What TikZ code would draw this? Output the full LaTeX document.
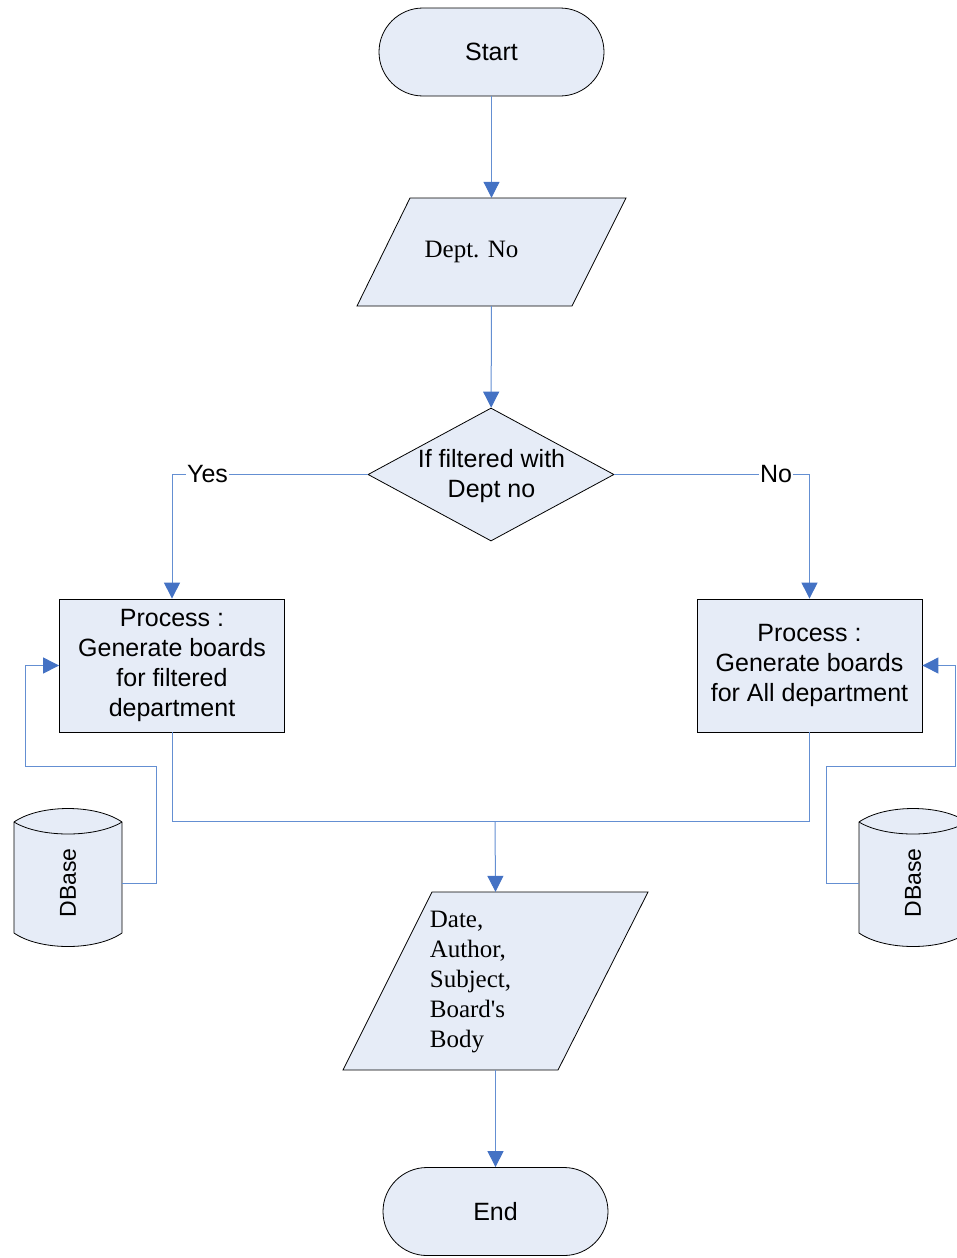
\documentclass[tikz,border=0pt]{standalone}
\usepackage{fontspec}
\setmainfont{Liberation Serif}
\setsansfont{Liberation Sans}
\usetikzlibrary{arrows.meta,shapes.geometric}
\definecolor{boxfill}{RGB}{230,236,247}
\definecolor{flow}{RGB}{100,143,210}
\definecolor{tipblue}{RGB}{68,114,196}
\begin{document}
\begin{tikzpicture}[x=1pt,y=-1pt,
  outline/.style={draw=black,line width=0.8pt,fill=boxfill},
  sanstext/.style={font=\sffamily\fontsize{25}{30}\selectfont},
  seriftext/.style={font=\rmfamily\fontsize{25}{30}\selectfont},
  terminal/.style={outline,sanstext,rounded corners=44pt,minimum width=225pt,minimum height=88pt,inner sep=0pt},
  procbox/.style={outline,sanstext,minimum width=225pt,minimum height=133pt,inner sep=0pt,align=center},
  iobox/.style={seriftext,inner sep=0pt},
  decision/.style={outline,diamond,minimum width=246pt,minimum height=133pt,inner sep=0pt},
  dbtext/.style={font=\sffamily\fontsize{23}{26}\selectfont,minimum width=108pt,minimum height=110pt,inner sep=0pt},
  flowline/.style={draw=flow,line width=1pt},
  flowarrow/.style={flowline,-{Triangle[length=16pt,width=16pt,fill=tipblue,color=tipblue]}},
  branchtag/.style={sanstext,fill=white,inner sep=1pt},
  cyl/.style={outline}
]
\useasboundingbox (0,0) rectangle (956,1258);

% database cylinders
\path[cyl] (14,822) -- (14,933) .. controls (40,951) and (96,951) .. (122,933)
  -- (122,822) .. controls (96,804) and (40,804) .. (14,822) -- cycle;
\draw[line width=0.8pt] (14,822) .. controls (40,838) and (96,838) .. (122,822);
\path[cyl] (859,822) -- (859,933) .. controls (885,951) and (941,951) .. (967,933)
  -- (967,822) .. controls (941,804) and (885,804) .. (859,822) -- cycle;
\draw[line width=0.8pt] (859,822) .. controls (885,838) and (941,838) .. (967,822);
\node[dbtext] (db1) at (68,883) {\rotatebox{90}{DBase}};
\node[dbtext] (db2) at (913,883) {\rotatebox{90}{DBase}};

% input/output parallelograms
\path[outline] (410,198) -- (626,198) -- (572,306) -- (357,306) -- cycle;
\path[outline] (432,892) -- (648,892) -- (558,1070) -- (343,1070) -- cycle;

% main flow shapes
\node[terminal] (start) at (491.5,52) {Start};
\node[iobox,minimum width=269pt,minimum height=108pt] (dept) at (491.5,252)
      {\raisebox{-3pt}{Dept. No}\kern40pt};
\node[decision] (dec) at (491,474.5) {};
\node[sanstext,align=center,inner sep=0pt] (dectext) at (491.5,476) {If filtered with\\Dept no};
\node[procbox] (pL) at (172,665.5) {Process :\\Generate boards\\for filtered\\department};
\node[procbox] (pR) at (809.5,665.5) {Process :\\Generate boards\\for All department};
\coordinate (merge) at (495,821);
\node[iobox,minimum width=305pt,minimum height=178pt] (out) at (495.5,981)
      {\raisebox{-1pt}{\begin{tabular}{@{}l@{}}Date,\\Author,\\Subject,\\Board\textquotesingle s\\Body\end{tabular}}\kern50pt};
\node[terminal] (end) at (495.5,1211.5) {End};

% connectors
\draw[flowarrow] (start) -- (dept);
\draw[flowarrow] (dept) -- (dec);
\draw[flowarrow] (dec.west) -| (pL.north);
\draw[flowarrow] (dec.east) -| (pR.north);
\node[branchtag] (yes) at (207.5,474) {Yes};
\node[branchtag] (no) at (776,474) {No};
\draw[flowline] (pL.south) |- (merge) -| (pR.south);
\draw[flowarrow] (merge) -- (out.north);
\draw[flowarrow] (out) -- (end);
\draw[flowarrow] (db1.east) -- (156,883) -- (156,766) -- (25,766) |- (pL.west);
\draw[flowarrow] (db2.west) -- (826,883) -- (826,766) -- (955,766) |- (pR.east);
\end{tikzpicture}
\end{document}
